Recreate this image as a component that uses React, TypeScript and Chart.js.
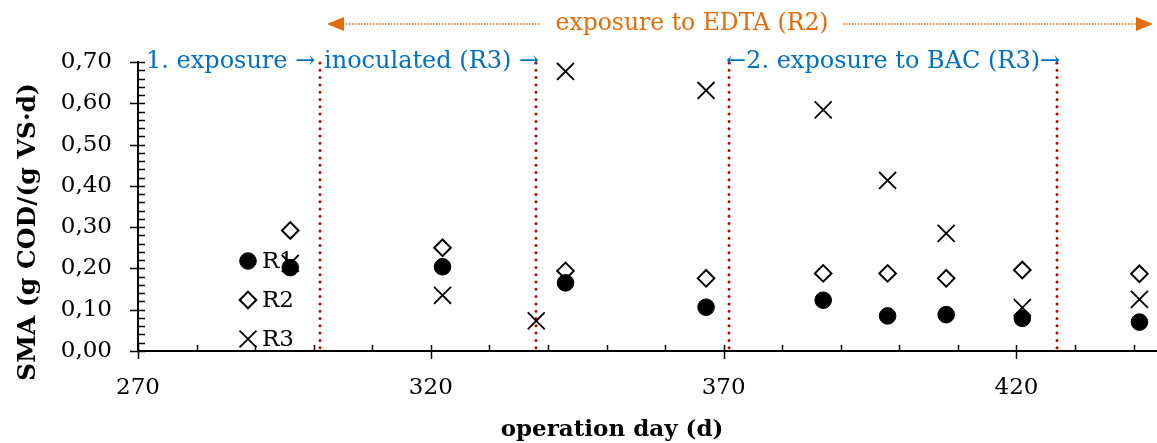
import React, { useEffect, useRef } from "react";
import { Chart, registerables } from "chart.js";
import { drawPoint } from "chart.js/helpers";

Chart.register(...registerables);

// Measurement days for reactors R1 and R2
const daysR1R2 = [296, 322, 343, 367, 387, 398, 408, 421, 441];
// Specific methanogenic activity, g COD/(g VS·d)
const smaR1 = [0.202, 0.204, 0.165, 0.106, 0.123, 0.085, 0.088, 0.079, 0.07];
const smaR2 = [0.292, 0.25, 0.194, 0.176, 0.188, 0.188, 0.176, 0.196, 0.187];
// R3 has one extra sample taken at inoculation
const daysR3 = [296, 322, 338, 343, 367, 387, 398, 408, 421, 441];
const smaR3 = [0.212, 0.135, 0.073, 0.677, 0.631, 0.584, 0.413, 0.285, 0.105, 0.125];

const seriesNames = ["R1", "R2", "R3"];

// Axis ticks
const xTickValues = [270, 320, 370, 420];
const xMinorStep = 10;
const yTickValues = [0, 0.1, 0.2, 0.3, 0.4, 0.5, 0.6, 0.7];
const yMinorStep = 0.02;

// Days separating the experimental phases
const phaseBoundaries = [301, 338, 371, 427];

const X_MIN = 270;
const X_MAX = 444;
const Y_MIN = 0;
const Y_MAX = 0.7;

const FONT = "'DejaVu Serif', serif";
const BLUE = "#0070C0";
const ORANGE = "#E36C0A";
const RED = "#C00000";

const pointStyles = [
  { pointStyle: "circle", radius: 8.3, backgroundColor: "#000", borderColor: "#000", borderWidth: 1 },
  { pointStyle: "rectRot", radius: 8.3, backgroundColor: "#fff", borderColor: "#000", borderWidth: 2 },
  { pointStyle: "crossRot", radius: 12, backgroundColor: "#000", borderColor: "#000", borderWidth: 1.8 },
];

const decorations = {
  id: "decorations",
  beforeDatasetsDraw(chart: any) {
    const { ctx, chartArea, scales } = chart;
    const x = scales.x;
    ctx.save();
    ctx.strokeStyle = RED;
    ctx.lineWidth = 3;
    ctx.lineCap = "round";
    ctx.setLineDash([0, 7.3]);
    for (const d of phaseBoundaries) {
      const px = Math.round(x.getPixelForValue(d));
      ctx.beginPath();
      ctx.moveTo(px, chartArea.top + 1);
      ctx.lineTo(px, chartArea.bottom);
      ctx.stroke();
    }
    ctx.restore();
  },
  afterDatasetsDraw(chart: any) {
    const { ctx, chartArea, scales } = chart;
    const x = scales.x;
    const y = scales.y;
    const left = chartArea.left;
    const bottom = chartArea.bottom;

    ctx.save();
    // tick marks: majors cross the axis, minors point inwards
    ctx.strokeStyle = "#000";
    ctx.lineWidth = 1.5;
    ctx.beginPath();
    for (let v = Y_MIN; v <= Y_MAX + 1e-9; v += yMinorStep) {
      const py = Math.round(y.getPixelForValue(v)) + 0.5;
      const major = yTickValues.some((t) => Math.abs(t - v) < 1e-6);
      ctx.moveTo(major ? left - 8 : left, py);
      ctx.lineTo(left + 7, py);
    }
    for (let v = X_MIN; v <= X_MAX; v += xMinorStep) {
      const px = Math.round(x.getPixelForValue(v)) + 0.5;
      const major = xTickValues.includes(v);
      ctx.moveTo(px, bottom - 6);
      ctx.lineTo(px, major ? bottom + 8 : bottom);
    }
    ctx.stroke();

    // in-plot legend
    const legendX = left + 110;
    const legendRows = [261, 300, 339];
    ctx.font = `23px ${FONT}`;
    ctx.textBaseline = "middle";
    ctx.textAlign = "left";
    seriesNames.forEach((name, i) => {
      const s = pointStyles[i];
      ctx.fillStyle = s.backgroundColor;
      ctx.strokeStyle = s.borderColor;
      ctx.lineWidth = s.borderWidth;
      drawPoint(ctx, { pointStyle: s.pointStyle as any, radius: s.radius, rotation: 0, borderWidth: s.borderWidth }, legendX, legendRows[i]);
      ctx.fillStyle = "#000";
      ctx.fillText(name, legendX + 14, legendRows[i] + 1);
    });

    // phase annotations
    ctx.font = `24px ${FONT}`;
    ctx.fillStyle = BLUE;
    const annY = chartArea.top;
    ctx.fillText("1. exposure \u2192", 146, annY);
    ctx.fillText("inoculated (R3) \u2192", 324, annY);
    ctx.fillText("\u21902. exposure to BAC (R3)\u2192", 726, annY);

    // EDTA exposure span with double arrow
    const arrowY = 24;
    ctx.font = `23.5px ${FONT}`;
    ctx.fillStyle = ORANGE;
    ctx.textAlign = "center";
    ctx.fillText("exposure to EDTA (R2)", 692, arrowY);
    ctx.strokeStyle = ORANGE;
    ctx.lineWidth = 1.5;
    ctx.setLineDash([1.5, 1.5]);
    ctx.beginPath();
    ctx.moveTo(343, arrowY);
    ctx.lineTo(541, arrowY);
    ctx.moveTo(843, arrowY);
    ctx.lineTo(1137, arrowY);
    ctx.stroke();
    ctx.setLineDash([]);
    ctx.beginPath();
    ctx.moveTo(327, arrowY);
    ctx.lineTo(344, arrowY - 7);
    ctx.lineTo(344, arrowY + 7);
    ctx.closePath();
    ctx.moveTo(1153, arrowY);
    ctx.lineTo(1136, arrowY - 7);
    ctx.lineTo(1136, arrowY + 7);
    ctx.closePath();
    ctx.fill();

    // axis titles
    ctx.fillStyle = "#000";
    ctx.textAlign = "center";
    ctx.textBaseline = "middle";
    ctx.font = `bold 23px ${FONT}`;
    ctx.fillText("operation day (d)", 612, 430);
    ctx.font = `bold 25px ${FONT}`;
    ctx.translate(28, 232);
    ctx.rotate(-Math.PI / 2);
    ctx.fillText("SMA (g COD/(g VS\u00b7d)", 0, 0);
    ctx.restore();
  },
};

export default function App() {
  const canvasRef = useRef<HTMLCanvasElement | null>(null);

  useEffect(() => {
    const canvas = canvasRef.current;
    if (!canvas) return;
    const toPoints = (xs: number[], ys: number[]) => xs.map((d, i) => ({ x: d, y: ys[i] }));
    const series = [
      toPoints(daysR1R2, smaR1),
      toPoints(daysR1R2, smaR2),
      toPoints(daysR3, smaR3),
    ];
    const chart = new Chart(canvas, {
      type: "scatter",
      data: {
        datasets: series.map((pts, i) => ({
          label: seriesNames[i],
          data: pts,
          pointStyle: pointStyles[i].pointStyle as any,
          pointRadius: pointStyles[i].radius,
          pointHoverRadius: pointStyles[i].radius,
          pointBackgroundColor: pointStyles[i].backgroundColor,
          pointBorderColor: pointStyles[i].borderColor,
          pointBorderWidth: pointStyles[i].borderWidth,
          showLine: false,
        })),
      },
      options: {
        animation: false,
        responsive: true,
        maintainAspectRatio: false,
        layout: { autoPadding: false, padding: { top: 62, right: 0, left: 0, bottom: 0 } },
        plugins: {
          legend: { display: false },
          tooltip: { enabled: false },
        },
        events: [],
        scales: {
          x: {
            type: "linear",
            min: X_MIN,
            max: X_MAX,
            grid: { display: false, drawTicks: false },
            border: { display: true, color: "#000", width: 2 },
            afterBuildTicks: (s: any) => {
              s.ticks = xTickValues.map((v) => ({ value: v }));
            },
            afterFit: (s: any) => {
              s.height = 92;
              s.paddingLeft = 0;
              s.paddingRight = 0;
            },
            ticks: {
              autoSkip: false,
              maxRotation: 0,
              padding: 23,
              color: "#000",
              font: { family: FONT, size: 23 },
              callback: (v: any) => String(v),
            },
          },
          y: {
            type: "linear",
            min: Y_MIN,
            max: Y_MAX,
            grid: { display: false, drawTicks: false },
            border: { display: true, color: "#000", width: 2 },
            afterBuildTicks: (s: any) => {
              s.ticks = yTickValues.map((v) => ({ value: v }));
            },
            afterFit: (s: any) => {
              s.width = 138;
              s.paddingTop = 0;
              s.paddingBottom = 0;
            },
            ticks: {
              padding: 26,
              color: "#000",
              font: { family: FONT, size: 23 },
              callback: (v: any) => Number(v).toFixed(2).replace(".", ","),
            },
          },
        },
      },
      plugins: [decorations],
    });
    return () => chart.destroy();
  }, []);

  return (
    <div style={{ position: "absolute", left: 0, top: 0, width: 1157, height: 443 }}>
      <canvas ref={canvasRef} />
    </div>
  );
}
